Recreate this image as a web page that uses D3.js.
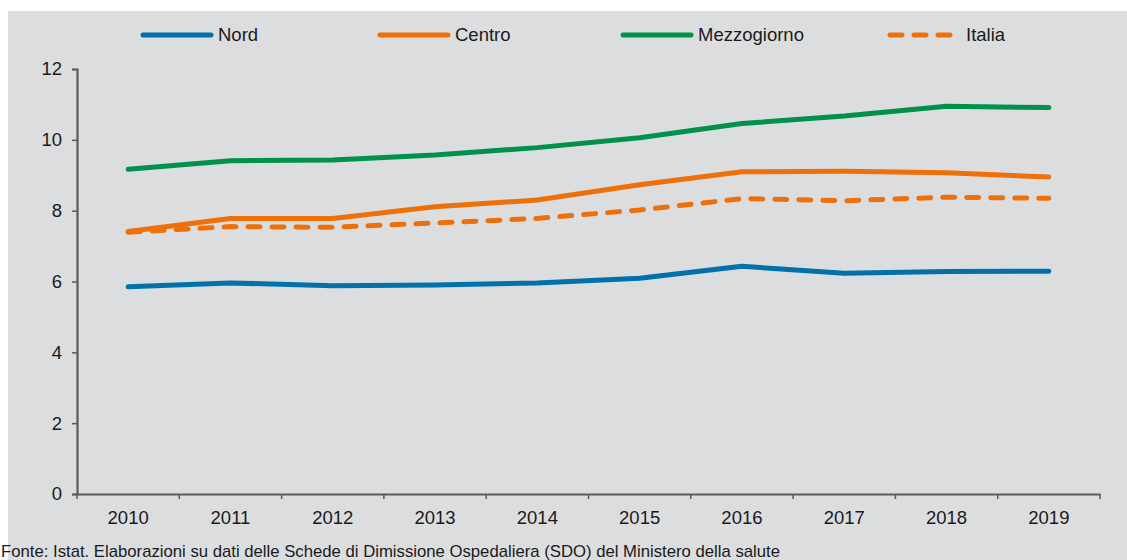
<!DOCTYPE html>
<html lang="it">
<head>
  <meta charset="UTF-8">
  <title>Nord, Centro, Mezzogiorno, Italia 2010-2019</title>
  <script src="https://d3js.org/d3.v7.min.js"></script>
  <style>
    body { margin: 0; background: #fff; }
    text { font-family: Arial, "Liberation Sans", sans-serif; fill: #1a1a1a; }
  </style>
</head>
<body>
  <script>
    const years = ["2010", "2011", "2012", "2013", "2014", "2015", "2016", "2017", "2018", "2019"];
    const nord = [5.85, 5.96, 5.88, 5.90, 5.96, 6.09, 6.43, 6.23, 6.28, 6.29];
    const centro = [7.41, 7.78, 7.78, 8.11, 8.30, 8.73, 9.10, 9.11, 9.07, 8.95];
    const mezzogiorno = [9.17, 9.41, 9.43, 9.57, 9.78, 10.06, 10.46, 10.67, 10.95, 10.91];
    const italia = [7.39, 7.55, 7.53, 7.65, 7.78, 8.02, 8.34, 8.28, 8.38, 8.35];
    const yTicks = [0, 2, 4, 6, 8, 10, 12];

    const series = [
      { name: "Nord", values: nord, color: "#0071aa", dash: null },
      { name: "Centro", values: centro, color: "#ee700a", dash: null },
      { name: "Mezzogiorno", values: mezzogiorno, color: "#00924a", dash: null },
      { name: "Italia", values: italia, color: "#ee700a", dash: "12,12" }
    ];

    const width = 1127, height = 560;
    const svg = d3.select("body").append("svg")
      .attr("width", width)
      .attr("height", height);

    // grey panel
    svg.append("rect")
      .attr("x", 8).attr("y", 11)
      .attr("width", width - 8).attr("height", height - 11)
      .attr("fill", "#dcdddf");

    const x = d3.scaleBand().domain(years).range([77, 1100]).padding(0);
    const y = d3.scaleLinear().domain([0, 12]).range([494, 69]);
    const axisColor = "#5a5a5a";

    // y axis
    const yAxis = svg.append("g")
      .attr("transform", "translate(77,0)")
      .call(d3.axisLeft(y).tickValues(yTicks).tickSizeOuter(0).tickSize(5).tickPadding(10));
    yAxis.select(".domain").attr("stroke", axisColor).attr("stroke-width", 2.2);
    yAxis.selectAll(".tick line").attr("stroke", axisColor).attr("stroke-width", 1.5);
    yAxis.selectAll(".tick text")
      .attr("font-size", 18.5).attr("fill", "#111")
      .style("font-family", "Arial, 'Liberation Sans', sans-serif");

    // x axis: labels centred in bands, ticks on band boundaries
    const xAxis = svg.append("g")
      .attr("transform", "translate(0,494)")
      .call(d3.axisBottom(x).tickSize(0).tickPadding(17));
    xAxis.select(".domain").attr("stroke", axisColor).attr("stroke-width", 2.2);
    xAxis.selectAll(".tick text")
      .attr("font-size", 18.5).attr("fill", "#111")
      .style("font-family", "Arial, 'Liberation Sans', sans-serif");
    const bounds = years.map(d => x(d)).concat([x.range()[1]]);
    xAxis.selectAll(".btick")
      .data(bounds)
      .enter().append("line")
      .attr("class", "btick")
      .attr("x1", d => d).attr("x2", d => d)
      .attr("y1", 0).attr("y2", 5)
      .attr("stroke", axisColor).attr("stroke-width", 1.5);

    // lines
    const line = d3.line()
      .x((d, i) => x(years[i]) + x.bandwidth() / 2)
      .y(d => y(d));

    svg.append("g").selectAll("path")
      .data(series)
      .enter().append("path")
      .attr("d", d => line(d.values))
      .attr("fill", "none")
      .attr("stroke", d => d.color)
      .attr("stroke-width", 5)
      .attr("stroke-linecap", "round")
      .attr("stroke-linejoin", "round")
      .attr("stroke-dasharray", d => d.dash);

    // legend
    const legendX = [141, 378, 621, 888];
    const legend = svg.append("g").selectAll("g")
      .data(series)
      .enter().append("g")
      .attr("transform", (d, i) => `translate(${legendX[i]},35)`);
    legend.append("line")
      .attr("x1", 2).attr("x2", d => d.dash ? 68 : 70)
      .attr("y1", 0).attr("y2", 0)
      .attr("stroke", d => d.color)
      .attr("stroke-width", 5)
      .attr("stroke-linecap", "round")
      .attr("stroke-dasharray", d => d.dash ? "12,12" : null);
    legend.append("text")
      .attr("x", (d, i) => i === 3 ? 78 : 77)
      .attr("y", 0)
      .attr("dy", "0.35em")
      .attr("font-size", 18.5)
      .attr("fill", "#111")
      .text(d => d.name);

    // source
    svg.append("text")
      .attr("x", 1)
      .attr("y", 557)
      .attr("font-size", 17)
      .attr("textLength", 779)
      .attr("lengthAdjust", "spacingAndGlyphs")
      .style("font-family", "'Liberation Sans Narrow', 'Arial Narrow', Arial, sans-serif")
      .attr("fill", "#222")
      .text("Fonte: Istat. Elaborazioni su dati delle Schede di Dimissione Ospedaliera (SDO) del Ministero della salute");
  </script>
</body>
</html>
